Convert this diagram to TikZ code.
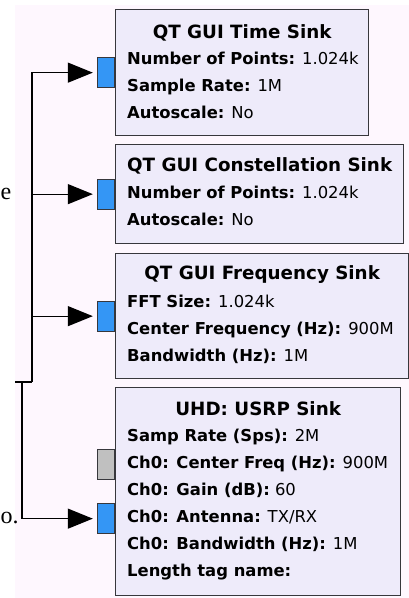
\documentclass[tikz,border=0pt]{standalone}
\usepackage{fontspec}
\setmainfont{DejaVu Sans}
\newfontfamily\pagefont{Liberation Serif}
\usepackage{xcolor}
\definecolor{grcbg}{RGB}{254,247,254}
\definecolor{grcblock}{RGB}{238,235,250}
\definecolor{grcport}{RGB}{52,150,245}
\definecolor{grcgray}{RGB}{192,192,192}
\definecolor{grcline}{RGB}{55,55,60}
\usetikzlibrary{arrows.meta, positioning, calc}

\begin{document}
\begin{tikzpicture}[x=1pt, y=-1pt,
    sinkbox/.style={draw=grcline, fill=grcblock, line width=1.3pt, anchor=north west,
      inner sep=0pt},
    sinktitle/.style={font=\fontsize{18.3}{27}\selectfont\bfseries, inner sep=0pt},
    sinkparams/.style={font=\fontsize{16.4}{27}\selectfont, align=left, anchor=north west,
      inner sep=0pt},
    inport/.style={draw=grcline, fill=grcport, line width=1.2pt, anchor=east,
      minimum width=17pt, minimum height=30pt, inner sep=0pt},
    flow/.style={draw=black, line width=1.3pt,
      -{Triangle[length=25pt, width=20pt]}, shorten >=4pt},
    pagetext/.style={font=\fontsize{24}{24}\pagefont, anchor=base west, inner sep=0pt}
  ]
  \useasboundingbox (0,0) rectangle (409,598);
  \fill[grcbg] (15,5) rectangle (409,598);

  % page text on the left
  \node[pagetext] (pagee) at (0.5,199) {e};
  \node[pagetext] (pageo) at (0.5,523) {o.};

  % Block 1
  \node[sinkbox, minimum width=253pt, minimum height=126pt] (timesink) at (115,9) {};
  \node[sinktitle] (timetitle) at ($(timesink.north)+(0,24)$) {QT GUI Time Sink};
  \node[sinkparams] (timeparams) at ($(timesink.north west)+(12,42.5)$)
    {\textbf{Number of Points:} 1.024k\\
     \textbf{Sample Rate:} 1M\\
     \textbf{Autoscale:} No};
  \node[inport] (timein) at (timesink.west) {};

  % Block 2
  \node[sinkbox, minimum width=288pt, minimum height=99pt] (constsink) at (115,144) {};
  \node[sinktitle] (consttitle) at ($(constsink.north)+(0,22)$) {QT GUI Constellation Sink};
  \node[sinkparams] (constparams) at ($(constsink.north west)+(12,41.5)$)
    {\textbf{Number of Points:} 1.024k\\
     \textbf{Autoscale:} No};
  \node[inport] (constin) at (constsink.west) {};

  % Block 3
  \node[sinkbox, minimum width=293pt, minimum height=125pt] (freqsink) at (115,253) {};
  \node[sinktitle] (freqtitle) at ($(freqsink.north)+(0,22)$) {QT GUI Frequency Sink};
  \node[sinkparams] (freqparams) at ($(freqsink.north west)+(12,41.5)$)
    {\textbf{FFT Size:} 1.024k\\
     \textbf{Center Frequency (Hz):} 900M\\
     \textbf{Bandwidth (Hz):} 1M};
  \node[inport] (freqin) at (freqsink.west) {};

  % Block 4
  \node[sinkbox, minimum width=285pt, minimum height=208pt] (usrpsink) at (115,387) {};
  \node[sinktitle] (usrptitle) at ($(usrpsink.north)+(0,22)$) {UHD: USRP Sink};
  \node[sinkparams] (usrpparams) at ($(usrpsink.north west)+(12,42)$)
    {\textbf{Samp Rate (Sps):} 2M\\
     \textbf{Ch0: Center Freq (Hz):} 900M\\
     \textbf{Ch0: Gain (dB):} 60\\
     \textbf{Ch0: Antenna:} TX/RX\\
     \textbf{Ch0: Bandwidth (Hz):} 1M\\
     \textbf{Length tag name:}};
  \node[inport, fill=grcgray] (usrpmsg) at ($(usrpsink.west)+(0,-27)$) {};
  \node[inport] (usrpin) at ($(usrpsink.west)+(0,27)$) {};

  % connections
  \coordinate (source) at (15,382);
  \coordinate (busa) at (32,382);
  \coordinate (busb) at (22,382);
  \draw[black, line width=1.3pt] (source) -- (busa);
  \draw[flow] (busa) |- (timein);
  \draw[flow] (busa |- constin) -- (constin);
  \draw[flow] (busa |- freqin) -- (freqin);
  \draw[flow] (busb) |- (usrpin);
\end{tikzpicture}
\end{document}
